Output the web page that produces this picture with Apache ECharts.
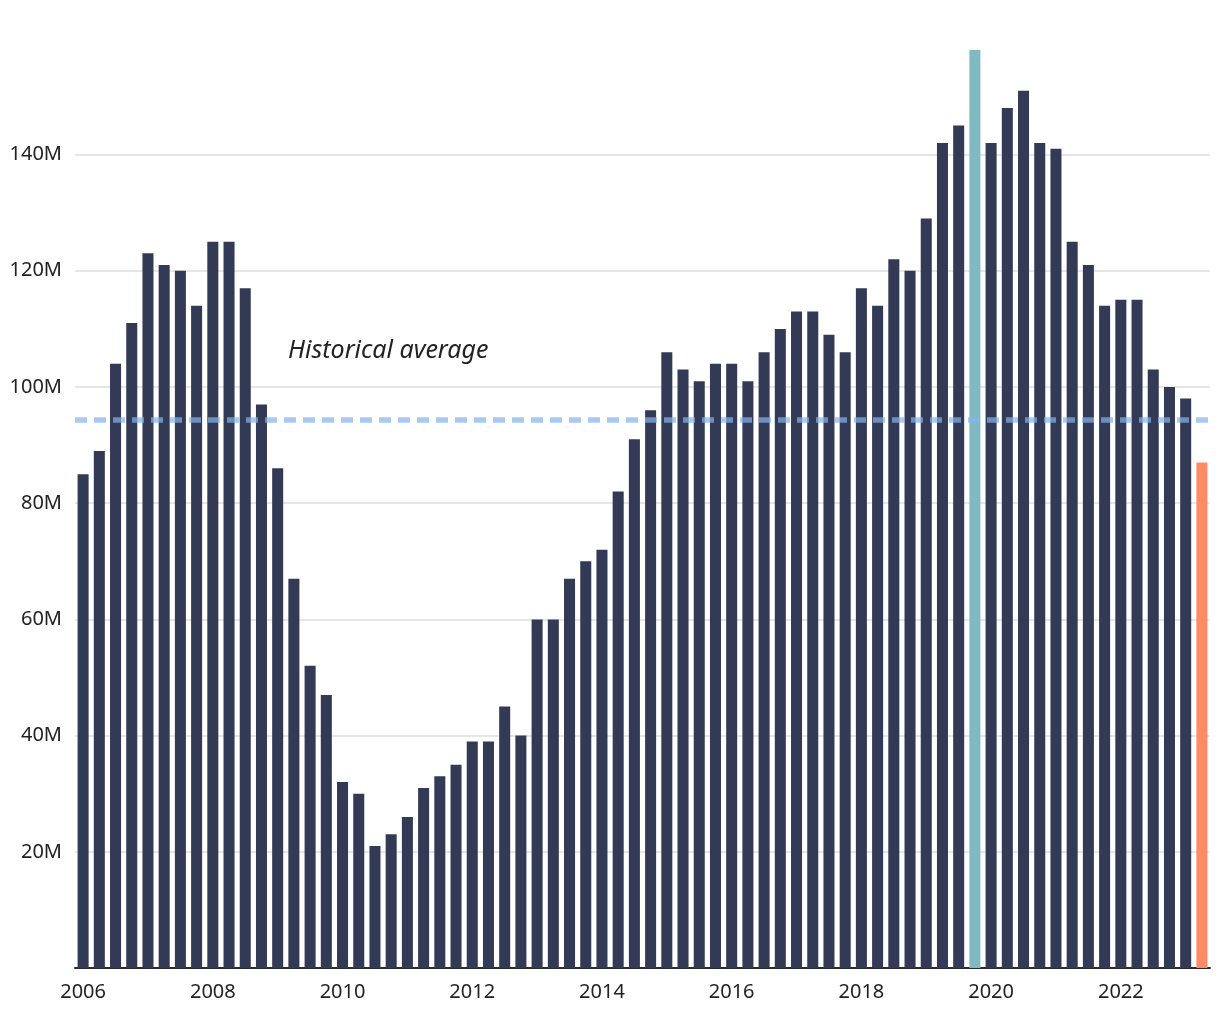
<!DOCTYPE html>
<html>
<head>
<meta charset="utf-8">
<script src="https://cdn.jsdelivr.net/npm/echarts@6/dist/echarts.min.js"></script>
<style>html,body{margin:0;padding:0;background:#fff}#c{width:1220px;height:1020px}</style>
</head>
<body>
<div id="c"></div>
<script>
const categories = [
  '2006 Q1','2006 Q2','2006 Q3','2006 Q4','2007 Q1','2007 Q2','2007 Q3','2007 Q4',
  '2008 Q1','2008 Q2','2008 Q3','2008 Q4','2009 Q1','2009 Q2','2009 Q3','2009 Q4',
  '2010 Q1','2010 Q2','2010 Q3','2010 Q4','2011 Q1','2011 Q2','2011 Q3','2011 Q4',
  '2012 Q1','2012 Q2','2012 Q3','2012 Q4','2013 Q1','2013 Q2','2013 Q3','2013 Q4',
  '2014 Q1','2014 Q2','2014 Q3','2014 Q4','2015 Q1','2015 Q2','2015 Q3','2015 Q4',
  '2016 Q1','2016 Q2','2016 Q3','2016 Q4','2017 Q1','2017 Q2','2017 Q3','2017 Q4',
  '2018 Q1','2018 Q2','2018 Q3','2018 Q4','2019 Q1','2019 Q2','2019 Q3','2019 Q4',
  '2020 Q1','2020 Q2','2020 Q3','2020 Q4','2021 Q1','2021 Q2','2021 Q3','2021 Q4',
  '2022 Q1','2022 Q2','2022 Q3','2022 Q4','2023 Q1','2023 Q2'
];
// values in millions
const values = [
  85, 89, 104, 111, 123, 121, 120, 114,
  125, 125, 117, 97, 86, 67, 52, 47,
  32, 30, 21, 23, 26, 31, 33, 35,
  39, 39, 45, 40, 60, 60, 67, 70,
  72, 82, 91, 96, 106, 103, 101, 104,
  104, 101, 106, 110, 113, 113, 109, 106,
  117, 114, 122, 120, 129, 142, 145, 158,
  142, 148, 151, 142, 141, 125, 121, 114,
  115, 115, 103, 100, 98, 87
];
const historicalAverage = 94.4;
const peakCategory = '2019 Q4';
const latestCategory = '2023 Q2';
const yTicks = [20, 40, 60, 80, 100, 120, 140];

const barData = values.map((v, i) => {
  const c = categories[i];
  let color = '#333a55';
  if (c === peakCategory) color = '#7fb9c2';
  if (c === latestCategory) color = '#ff8a66';
  return { value: v, itemStyle: { color } };
});

const chart = echarts.init(document.getElementById('c'), null, { renderer: 'canvas' });
chart.setOption({
  animation: false,
  backgroundColor: '#ffffff',
  grid: { left: 75, right: 10, top: 50, bottom: 52, containLabel: false },
  xAxis: {
    type: 'category',
    data: categories,
    axisTick: { show: false },
    axisLine: { show: true, lineStyle: { color: '#2b2b2b', width: 2 } },
    axisLabel: {
      interval: 7,
      margin: 14,
      color: '#222',
      fontFamily: 'Noto Sans',
      fontSize: 20,
      formatter: (v) => v.slice(0, 4)
    },
    splitLine: { show: false }
  },
  yAxis: {
    type: 'value',
    min: 0,
    max: 158,
    interval: 20,
    axisLine: { show: false },
    axisTick: { show: false },
    axisLabel: {
      margin: 13,
      color: '#222',
      fontFamily: 'Noto Sans',
      fontSize: 20,
      showMaxLabel: false,
      formatter: (v) => yTicks.indexOf(v) >= 0 ? v + 'M' : ''
    },
    splitLine: {
      show: true,
      showMinLine: false,
      showMaxLine: false,
      lineStyle: { color: '#e6e6e6', width: 2 }
    }
  },
  series: [{
    type: 'bar',
    data: barData,
    barCategoryGap: '32%',
    markLine: {
      silent: true,
      symbol: ['none', 'none'],
      data: [{ yAxis: historicalAverage }],
      lineStyle: { type: [12, 7], width: 5.5, color: 'rgba(133,179,233,0.7)' },
      label: {
        show: true,
        position: 'insideStartTop',
        distance: [213, 56],
        formatter: 'Historical average',
        color: '#222',
        fontFamily: 'Noto Sans',
        fontStyle: 'italic',
        fontSize: 25
      },
      emphasis: { disabled: true }
    }
  }]
});
</script>
</body>
</html>
